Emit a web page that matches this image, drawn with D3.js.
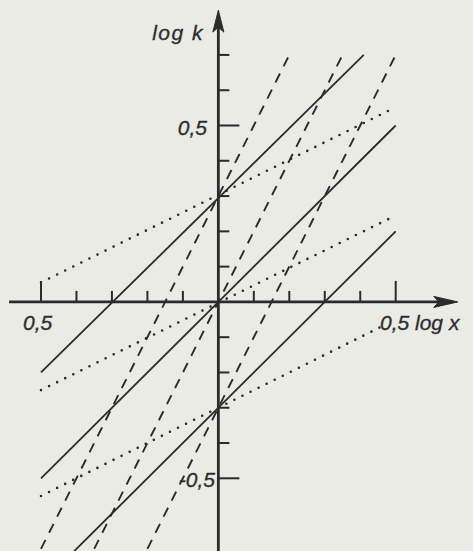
<!DOCTYPE html>
<html>
<head>
<meta charset="utf-8">
<script src="https://cdn.jsdelivr.net/npm/d3@7"></script>
<style>
  html, body { margin: 0; padding: 0; background: #eaebe5; }
  svg { display: block; }
  text { font-family: "Liberation Sans", Arial, sans-serif; font-style: italic; fill: #2e2e2e; stroke: #2e2e2e; stroke-width: 0.35; }
</style>
</head>
<body>
<svg id="chart" width="473" height="551"></svg>
<script>
// Three families of straight lines in the (log x, log k) plane,
// each line given by its two end points.
const solidLines = [
  [[-0.5, -0.2], [0.41, 0.7]],
  [[-0.5, -0.5], [0.5, 0.5]],
  [[-0.42, -0.72], [0.5, 0.2]]
];
const dottedLines = [
  [[-0.5, 0.055], [0.5, 0.552]],
  [[-0.5, -0.25], [0.5, 0.245]],
  [[-0.5, -0.55], [0.47, -0.065]]
];
const dashedLines = [
  [[-0.5, -0.7], [0.2, 0.7]],
  [[-0.35, -0.7], [0.35, 0.7]],
  [[-0.2, -0.7], [0.5, 0.7]]
];

// Axis ticks and labels
const xTicks = [-0.5, -0.4, -0.3, -0.2, -0.1, 0.1, 0.2, 0.3, 0.4, 0.5];
const yTicks = [-0.5, -0.4, -0.3, -0.2, -0.1, 0.1, 0.2, 0.3, 0.4, 0.5, 0.6, 0.7];
const longTicks = [-0.5, 0.5];
const xAxisExtent = [-0.59, 0.675];
const yAxisExtent = [-0.71, 0.827];

const svg = d3.select("#chart");
const ink = "#2b2b2b";

const x = d3.scaleLinear().domain([-0.5, 0.5]).range([41, 395.7]);
const y = d3.scaleLinear().domain([-0.5, 0.5]).range([478.3, 125.5]);

const line = d3.line().x(d => x(d[0])).y(d => y(d[1]));

// Axes with arrow heads
const ax = svg.append("g").attr("stroke", ink).attr("fill", "none");
ax.append("line")
  .attr("x1", x(xAxisExtent[0])).attr("x2", x(xAxisExtent[1]) - 8)
  .attr("y1", y(0)).attr("y2", y(0))
  .attr("stroke-width", 2.8);
ax.append("line")
  .attr("x1", x(0)).attr("x2", x(0))
  .attr("y1", y(yAxisExtent[0])).attr("y2", y(yAxisExtent[1]) + 8)
  .attr("stroke-width", 2.8);

const tipX = x(xAxisExtent[1]), oy = y(0);
svg.append("path")
  .attr("d", `M${tipX},${oy} L${tipX - 24},${oy - 5.5} L${tipX - 19},${oy} L${tipX - 24},${oy + 5.5} Z`)
  .attr("fill", ink).attr("stroke", ink).attr("stroke-width", 1).attr("stroke-linejoin", "round");
const tipY = y(yAxisExtent[1]), ox = x(0);
svg.append("path")
  .attr("d", `M${ox},${tipY} L${ox - 5.5},${tipY + 22} L${ox},${tipY + 17} L${ox + 5.5},${tipY + 22} Z`)
  .attr("fill", ink).attr("stroke", ink).attr("stroke-width", 1).attr("stroke-linejoin", "round");

// Tick marks: x ticks stand above the axis, y ticks point to the right
const tickLen = v => longTicks.includes(v) ? 21 : 11;
ax.selectAll(".xt").data(xTicks).join("line")
  .attr("x1", d => x(d)).attr("x2", d => x(d))
  .attr("y1", oy).attr("y2", d => oy - tickLen(d))
  .attr("stroke-width", 2);
ax.selectAll(".yt").data(yTicks).join("line")
  .attr("x1", ox).attr("x2", d => ox + tickLen(d))
  .attr("y1", d => y(d)).attr("y2", d => y(d))
  .attr("stroke-width", 2);

// Line families
const g = svg.append("g").attr("fill", "none").attr("stroke", ink);
g.selectAll(".solid").data(solidLines).join("path")
  .attr("d", line).attr("stroke-width", 1.8);
g.selectAll(".dashed").data(dashedLines).join("path")
  .attr("d", line).attr("stroke-width", 1.9)
  .attr("stroke-dasharray", "10,8");
g.selectAll(".dotted").data(dottedLines).join("path")
  .attr("d", line).attr("stroke-width", 2.6)
  .attr("stroke-linecap", "round")
  .attr("stroke-dasharray", "0,9");

// Labels
const fs = 21;
svg.append("text").attr("x", 204).attr("y", 40).attr("text-anchor", "end")
  .attr("font-size", fs).attr("letter-spacing", 1.5).text("log k");
svg.append("text").attr("x", 207).attr("y", 135).attr("text-anchor", "end")
  .attr("font-size", fs).text("0,5");
svg.append("text").attr("x", 215).attr("y", 487).attr("text-anchor", "end")
  .attr("font-size", fs).text("-0,5");
svg.append("text").attr("x", 23).attr("y", 330)
  .attr("font-size", fs).text("0,5");
svg.append("text").attr("x", 380).attr("y", 330)
  .attr("font-size", fs).text("0,5 log x");
</script>
</body>
</html>
